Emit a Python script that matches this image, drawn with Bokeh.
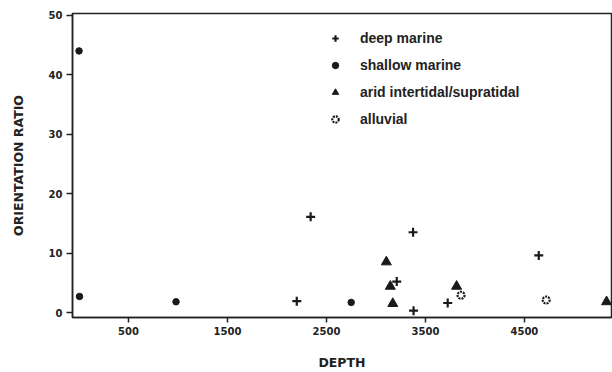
from bokeh.plotting import figure
from bokeh.models import FixedTicker, Legend, LegendItem, Range1d
from bokeh.embed import file_html
from bokeh.resources import INLINE

# ---- data ----
deep_x = [2200, 2340, 3210, 3375, 3380, 3725, 4645]
deep_y = [1.9, 16.1, 5.2, 13.5, 0.3, 1.6, 9.6]

shallow_x = [0, 5, 980, 2750]
shallow_y = [44.0, 2.7, 1.8, 1.7]

arid_x = [3105, 3145, 3170, 3815, 5330]
arid_y = [8.5, 4.4, 1.5, 4.4, 1.8]

alluvial_x = [3860, 4720]
alluvial_y = [2.9, 2.1]

x_ticks = [500, 1500, 2500, 3500, 4500]
y_ticks = [0, 10, 20, 30, 40, 50]

TICK_FONT = "DejaVu Sans"
LEG_FONT = "Liberation Sans"

p = figure(width=612, height=372, output_backend="svg", toolbar_location=None,
           x_range=Range1d(-66, 5380), y_range=Range1d(-0.84, 50.3),
           min_border_left=72, min_border_right=1, min_border_top=13, min_border_bottom=54)

p.grid.visible = False
p.background_fill_color = "white"
p.border_fill_color = "white"
p.outline_line_color = "#222222"
p.outline_line_width = 1.5

for ax in (p.xaxis[0], p.yaxis[0]):
    ax.axis_line_width = 1.5
    ax.axis_line_color = "#222222"
    ax.major_tick_line_width = 1.5
    ax.major_tick_line_color = "#222222"
    ax.major_tick_in = 0
    ax.minor_tick_line_color = None
    ax.major_label_text_font = TICK_FONT
    ax.major_label_text_font_style = "bold"
    ax.major_label_text_font_size = "10px"
    ax.major_label_text_color = "#222222"
    ax.axis_label_text_font = TICK_FONT
    ax.axis_label_text_font_style = "bold"
    ax.axis_label_text_font_size = "12.5px"
    ax.axis_label_text_color = "#222222"

p.xaxis.ticker = FixedTicker(ticks=x_ticks)
p.yaxis.ticker = FixedTicker(ticks=y_ticks)
p.xaxis.axis_label = "DEPTH"
p.yaxis.axis_label = "ORIENTATION RATIO"
p.xaxis.major_tick_out = 5
p.xaxis.major_label_standoff = 4
p.xaxis.axis_label_standoff = 17
p.yaxis.major_tick_out = 6
p.yaxis.major_label_standoff = 4
p.yaxis.axis_label_standoff = 20

c = "#1a1a1a"
r_deep = p.scatter(deep_x, deep_y, marker="cross", size=9, line_width=2.2, line_color=c)
r_shallow = p.scatter(shallow_x, shallow_y, marker="circle", size=6.5, fill_color=c, line_color=c)
r_arid = p.scatter(arid_x, arid_y, marker="triangle", size=10, fill_color=c, line_color=c)
r_all = p.scatter(alluvial_x, alluvial_y, marker="circle", size=7, fill_color="white",
                  line_color=c, line_width=2.2, line_dash="2 1")

legend = Legend(items=[
    LegendItem(label="deep marine", renderers=[r_deep]),
    LegendItem(label="shallow marine", renderers=[r_shallow]),
    LegendItem(label="arid intertidal/supratidal", renderers=[r_arid]),
    LegendItem(label="alluvial", renderers=[r_all]),
], location=(255, 190))
legend.border_line_color = None
legend.background_fill_alpha = 0
legend.padding = 0
legend.margin = 0
legend.glyph_width = 16
legend.glyph_height = 16
legend.label_height = 16
legend.label_standoff = 17
legend.spacing = 11
legend.label_text_font = LEG_FONT
legend.label_text_font_style = "bold"
legend.label_text_font_size = "14px"
legend.label_text_color = "#222222"
p.add_layout(legend, "center")

open("out.html", "w").write(file_html(p, INLINE))
